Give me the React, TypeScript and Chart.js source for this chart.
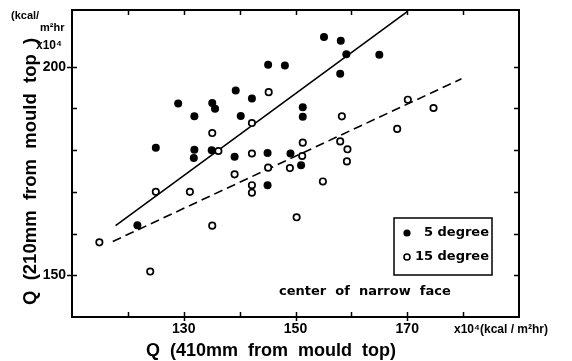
import React, { useEffect, useRef } from "react";
import { Chart, registerables } from "chart.js";

Chart.register(...registerables);

// 5 degree (filled circles)
const deg5X = [129.0, 135.1, 135.6, 131.9, 125.0, 131.9, 131.8, 135.0, 121.7, 155.1, 158.1, 159.1, 145.1, 148.1, 158.0, 139.3, 142.2, 140.2, 151.3, 151.3, 139.1, 145.0, 149.1, 151.0, 145.0, 165.0];
const deg5Y = [191.2, 191.3, 189.9, 188.1, 180.6, 180.1, 178.1, 180.0, 162.0, 207.1, 206.2, 203.0, 200.5, 200.3, 198.3, 194.3, 192.4, 188.2, 190.3, 188.0, 178.4, 179.3, 179.2, 176.4, 171.6, 202.9];

// 15 degree (open circles)
const deg15X = [135.1, 136.2, 145.2, 142.2, 158.3, 151.3, 158.0, 159.3, 159.2, 142.2, 151.2, 145.1, 149.0, 139.1, 154.9, 168.2, 170.1, 174.7, 125.0, 131.1, 135.1, 114.9, 124.0, 142.2, 142.2, 150.2];
const deg15Y = [184.1, 179.8, 193.9, 186.5, 188.1, 181.8, 182.1, 180.2, 177.3, 179.2, 178.6, 175.8, 175.7, 174.2, 172.5, 185.1, 192.1, 190.1, 170.0, 170.0, 161.9, 157.9, 150.9, 171.6, 169.8, 163.9];

// regression lines
const solidFitX = [117.8, 170.0];
const solidFitY = [161.9, 213.2];
const dashedFitX = [117.3, 179.7];
const dashedFitY = [158.1, 197.1];

const xTickLabels = [130, 150, 170];
const yTickLabels = [150, 200];
const legendLabels = ["5 degree", "15 degree"];
const xTitle = "Q  (410mm  from  mould  top)";
const yTitle = "Q  (210mm  from  mould  top  )";
const noteText = "center  of  narrow  face";
const xUnitText = "x10\u2074(kcal / m\u00b2hr)";
const yUnitTop = "(kcal/";
const yUnitMid = "m\u00b2hr";
const yUnitBottom = "x10\u2074";

const pts = (xs: number[], ys: number[]) => xs.map((x, i) => ({ x, y: ys[i] }));

const decorPlugin = {
  id: "decor",
  afterDraw(chart: any) {
    const { ctx, chartArea: a, scales } = chart;
    const xs = scales.x;
    const ys = scales.y;
    ctx.save();
    ctx.strokeStyle = "#000";
    ctx.fillStyle = "#000";
    // frame
    ctx.lineWidth = 2;
    ctx.strokeRect(a.left, a.top, a.right - a.left, a.bottom - a.top);
    // ticks
    ctx.lineWidth = 1.5;
    ctx.beginPath();
    xs.ticks.forEach((t: any) => {
      const v = t.value;
      if (v <= xs.min || v >= xs.max || v % 10 !== 0) return;
      const p = Math.round(xs.getPixelForValue(v)) + 0.5;
      ctx.moveTo(p, a.bottom);
      ctx.lineTo(p, a.bottom - 5);
      ctx.moveTo(p, a.top);
      ctx.lineTo(p, a.top + 5);
      if (xTickLabels.includes(v)) {
        ctx.moveTo(p, a.bottom);
        ctx.lineTo(p, a.bottom + 4);
      }
    });
    ys.ticks.forEach((t: any) => {
      const v = t.value;
      if (v <= ys.min || v >= ys.max || v % 10 !== 0) return;
      const p = Math.round(ys.getPixelForValue(v)) + 0.5;
      ctx.moveTo(a.left, p);
      ctx.lineTo(a.left + 5, p);
      ctx.moveTo(a.right, p);
      ctx.lineTo(a.right - 5, p);
      if (yTickLabels.includes(v)) {
        ctx.moveTo(a.left, p);
        ctx.lineTo(a.left - 5, p);
      }
    });
    ctx.stroke();

    // legend box
    ctx.lineWidth = 1.5;
    ctx.strokeRect(394, 218, 98, 57);
    ctx.beginPath();
    ctx.arc(407, 233, 3.6, 0, Math.PI * 2);
    ctx.fill();
    ctx.beginPath();
    ctx.lineWidth = 1.6;
    ctx.fillStyle = "#fff";
    ctx.arc(407, 257, 3, 0, Math.PI * 2);
    ctx.fill();
    ctx.stroke();
    ctx.fillStyle = "#000";
    ctx.font = "bold 13px 'DejaVu Sans'";
    ctx.textAlign = "right";
    ctx.textBaseline = "middle";
    ctx.fillText(legendLabels[0], 489, 233);
    ctx.fillText(legendLabels[1], 489, 257);

    // note
    ctx.textAlign = "left";
    ctx.textBaseline = "alphabetic";
    ctx.font = "bold 13px 'DejaVu Sans'";
    ctx.fillText(noteText, 279, 295);

    // x title
    ctx.font = "bold 18px 'Liberation Sans'";
    ctx.fillText(xTitle, 146, 356);

    // x unit
    ctx.font = "bold 12px 'Liberation Sans'";
    ctx.fillText(xUnitText, 454, 333);

    // y unit
    ctx.font = "bold 11px 'Liberation Sans'";
    ctx.fillText(yUnitTop, 11, 19);
    ctx.fillText(yUnitMid, 40, 31);
    ctx.font = "bold 12px 'Liberation Sans'";
    ctx.fillText(yUnitBottom, 36, 49);

    // y title
    ctx.save();
    ctx.translate(36, 305);
    ctx.rotate(-Math.PI / 2);
    ctx.font = "bold 18.5px 'Liberation Sans'";
    ctx.textAlign = "left";
    ctx.fillText(yTitle, 0, 0);
    ctx.restore();

    ctx.restore();
  },
};

export default function App() {
  const ref = useRef<HTMLCanvasElement | null>(null);
  useEffect(() => {
    if (!ref.current) return;
    const chart = new Chart(ref.current, {
      type: "scatter",
      data: {
        datasets: [
          {
            label: legendLabels[0],
            data: pts(deg5X, deg5Y),
            pointRadius: 4,
            pointBackgroundColor: "#000",
            pointBorderColor: "#000",
            pointBorderWidth: 0,
            showLine: false,
            order: 1,
          },
          {
            label: legendLabels[1],
            data: pts(deg15X, deg15Y),
            pointRadius: 3.2,
            pointBackgroundColor: "#fff",
            pointBorderColor: "#000",
            pointBorderWidth: 1.7,
            showLine: false,
            order: 1,
          },
          {
            label: "fit 5",
            data: pts(solidFitX, solidFitY),
            showLine: true,
            borderColor: "#000",
            borderWidth: 1.6,
            pointRadius: 0,
            fill: false,
            order: 2,
          },
          {
            label: "fit 15",
            data: pts(dashedFitX, dashedFitY),
            showLine: true,
            borderColor: "#000",
            borderWidth: 1.6,
            borderDash: [9, 5],
            pointRadius: 0,
            fill: false,
            order: 2,
          },
        ],
      },
      options: {
        animation: false,
        responsive: false,
        devicePixelRatio: 1,
        layout: { padding: { top: 10, right: 53, left: 0, bottom: 0 } },
        plugins: { legend: { display: false }, tooltip: { enabled: false } },
        scales: {
          x: {
            type: "linear",
            min: 110,
            max: 190,
            grid: { display: false, drawTicks: false },
            border: { display: false },
            ticks: {
              stepSize: 10,
              autoSkip: false,
              maxRotation: 0,
              padding: 4,
              color: "#000",
              font: { family: "'Liberation Sans'", size: 14, weight: "bold" },
              callback: (v: any) => (xTickLabels.includes(Number(v)) ? String(v) : ""),
            },
            afterFit: (s: any) => {
              s.height = 44;
              s.paddingLeft = 0;
              s.paddingRight = 0;
            },
          },
          y: {
            type: "linear",
            min: 140,
            max: 213.6,
            grid: { display: false, drawTicks: false },
            border: { display: false },
            ticks: {
              stepSize: 10,
              autoSkip: false,
              padding: 6,
              color: "#000",
              font: { family: "'Liberation Sans'", size: 14, weight: "bold" },
              callback: (v: any) => (yTickLabels.includes(Number(v)) ? String(v) : ""),
            },
            afterFit: (s: any) => {
              s.width = 72;
              s.paddingTop = 0;
              s.paddingBottom = 0;
            },
          },
        },
      },
      plugins: [decorPlugin],
    });
    return () => chart.destroy();
  }, []);
  return (
    <div style={{ position: "fixed", left: 0, top: 0, width: 572, height: 361, background: "#fff" }}>
      <canvas ref={ref} width={572} height={361} />
    </div>
  );
}
